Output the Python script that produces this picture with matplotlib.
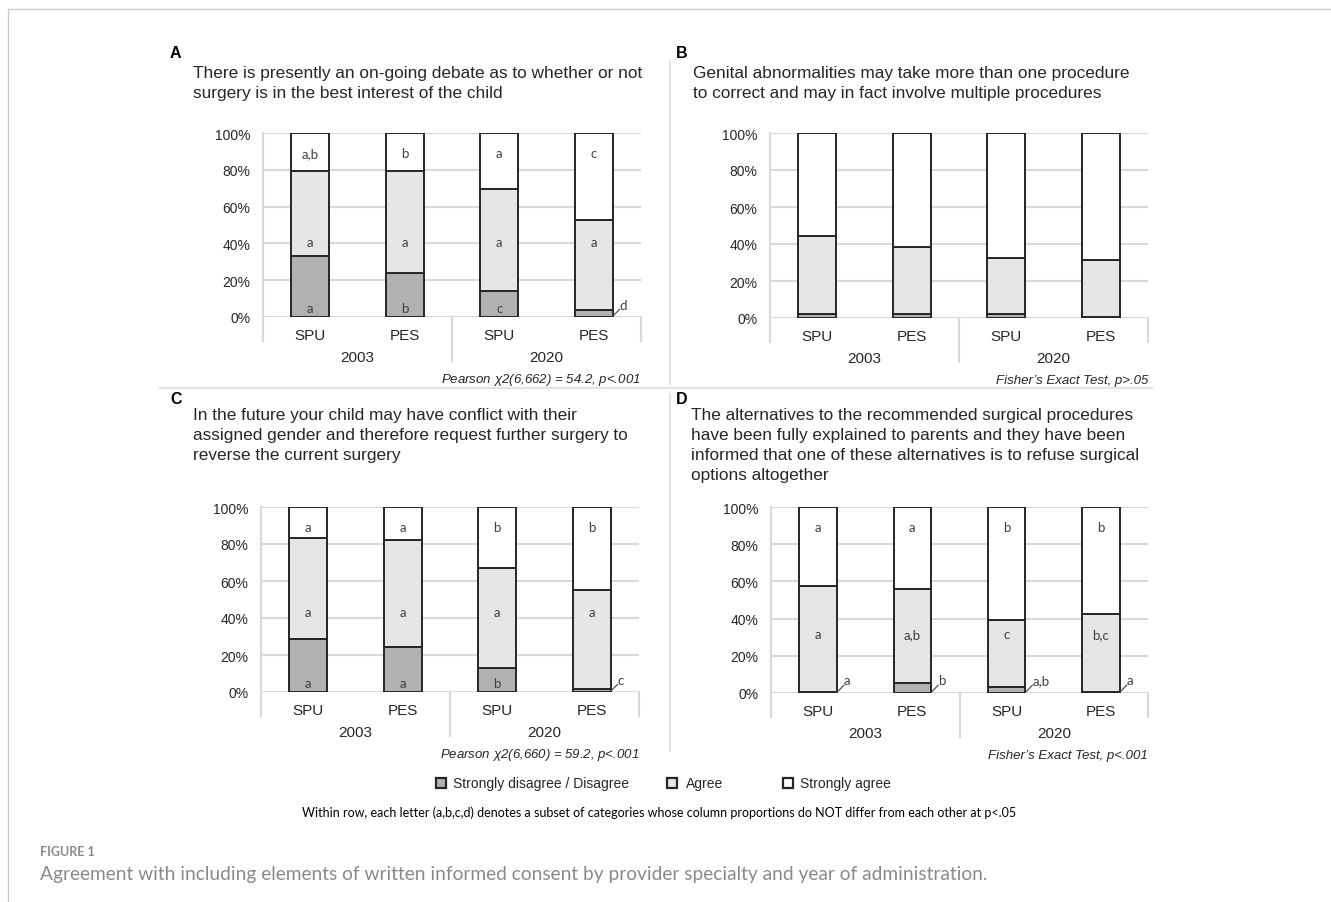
import matplotlib
matplotlib.use("Agg")
import matplotlib.pyplot as plt
from matplotlib.patches import Rectangle
from matplotlib.transforms import blended_transform_factory

W, H = 1331, 903

categories = ["SPU", "PES", "SPU", "PES"]
years = ["2003", "2020"]
series_names = ["Strongly disagree / Disagree", "Agree", "Strongly agree"]

# percentages per bar: SPU 2003, PES 2003, SPU 2020, PES 2020
disagree_a = [33.2, 23.8, 14.1, 3.6]
agree_a = [46.0, 55.8, 55.6, 49.1]
strong_a = [20.8, 20.4, 30.3, 47.3]

disagree_b = [2.0, 2.3, 2.3, 0.5]
agree_b = [42.3, 35.9, 30.2, 30.9]
strong_b = [55.7, 61.8, 67.5, 68.6]

disagree_c = [28.7, 24.1, 13.1, 1.6]
agree_c = [54.6, 57.9, 53.9, 53.7]
strong_c = [16.7, 18.0, 33.0, 44.7]

disagree_d = [0.3, 5.4, 3.0, 0.5]
agree_d = [57.0, 50.3, 36.1, 42.2]
strong_d = [42.7, 44.3, 60.9, 57.3]

# subset letters
letters_a = [["a", "b", "c", "d"], ["a", "a", "a", "a"], ["a,b", "b", "a", "c"]]
letters_b = None
letters_c = [["a", "a", "b", "c"], ["a", "a", "a", "a"], ["a", "a", "b", "b"]]
letters_d = [["a", "b", "a,b", "a"], ["a", "a,b", "c", "b,c"], ["a", "a", "b", "b"]]

questions = [
    "There is presently an on-going debate as to whether or not\nsurgery is in the best interest of the child",
    "Genital abnormalities may take more than one procedure\nto correct and may in fact involve multiple procedures",
    "In the future your child may have conflict with their\nassigned gender and therefore request further surgery to\nreverse the current surgery",
    "The alternatives to the recommended surgical procedures\nhave been fully explained to parents and they have been\ninformed that one of these alternatives is to refuse surgical\noptions altogether",
]
stats = [
    r"Pearson $\chi$2(6,662) = 54.2, p<.001",
    "Fisher\u2019s Exact Test, p>.05",
    r"Pearson $\chi$2(6,660) = 59.2, p<.001",
    "Fisher\u2019s Exact Test, p<.001",
]

colors = ["#b1b1b3", "#e7e6e6", "#ffffff"]
edge = "#262626"
grid = "#d9d9d9"
txt = "#262626"
lbl = "#404040"

plt.rcParams["font.family"] = ["Liberation Sans", "DejaVu Sans"]
plt.rcParams["mathtext.fontset"] = "custom"
plt.rcParams["mathtext.it"] = "Liberation Sans:italic"
plt.rcParams["mathtext.rm"] = "Liberation Sans:italic"

fig = plt.figure(figsize=(W / 100, H / 100), dpi=100)


def px(x, y):
    return x / W, 1 - y / H


def draw_panel(box, dis, agr, sa, letters, stat, mid_y):
    l, t, r, b = box
    ax = fig.add_axes([l / W, 1 - b / H, (r - l) / W, (b - t) / H])
    x = range(len(categories))
    ax.bar(x, dis, 0.4, color=colors[0], edgecolor=edge, linewidth=1.4, zorder=3)
    ax.bar(x, agr, 0.4, bottom=dis, color=colors[1], edgecolor=edge, linewidth=1.4, zorder=3)
    bott = [d + a for d, a in zip(dis, agr)]
    ax.bar(x, sa, 0.4, bottom=bott, color=colors[2], edgecolor=edge, linewidth=1.4, zorder=3)
    ax.set_xlim(-0.5, 3.5)
    ax.set_ylim(0, 100)
    ax.set_yticks(range(0, 101, 20))
    ax.set_yticklabels([f"{v}%" for v in range(0, 101, 20)], fontsize=10, color=txt)
    ax.tick_params(axis="y", length=0, pad=9)
    ax.set_xticks([])
    for s in ["top", "right", "bottom"]:
        ax.spines[s].set_visible(False)
    ax.spines["left"].set_color(grid)
    ax.spines["left"].set_linewidth(1.5)
    ax.yaxis.grid(True, color=grid, linewidth=1.5, zorder=0)
    ax.axhline(0, color=grid, linewidth=2, zorder=2)

    # multi-level category axis
    hpx = b - t
    tr = blended_transform_factory(ax.transData, ax.transAxes)
    for xs, depth in [(-0.5, 24), (1.5, 44), (3.5, 24)]:
        ax.plot([xs, xs], [0, -depth / hpx], transform=tr, color=grid, lw=1.5, clip_on=False)
    for i, c in enumerate(categories):
        ax.text(i, -18 / hpx, c, transform=tr, ha="center", va="center", fontsize=11, color=txt)
    for j, yv in enumerate(years):
        ax.text(2 * j + 0.5, -40 / hpx, yv, transform=tr, ha="center", va="center", fontsize=11, color=txt)
    ax.text(1, -62 / hpx, stat, transform=ax.transAxes, ha="right", va="center",
            fontsize=9.5, style="italic", color=txt)

    if letters is not None:
        unit = (r - l) / 4.0
        for i in x:
            if dis[i] < 6:
                x0 = i + 0.2
                ax.plot([x0, x0 + 7 / unit], [0.4, 4.2], color=lbl, lw=0.8, clip_on=False, zorder=4)
                ax.text(x0 + 7 / unit, 3.5, letters[0][i], ha="left", va="bottom",
                        fontsize=9.5, color=lbl, family="Lato", zorder=4)
            else:
                ax.text(i, 5, letters[0][i], ha="center", va="center", fontsize=9.5,
                        color=lbl, family="Lato", zorder=4)
            ax.text(i, mid_y, letters[1][i], ha="center", va="center", fontsize=9.5,
                    color=lbl, family="Lato", zorder=4)
            ax.text(i, 89, letters[2][i], ha="center", va="center", fontsize=9.5,
                    color=lbl, family="Lato", zorder=4)
    return ax


draw_panel((263, 134, 641, 318), disagree_a, agree_a, strong_a, letters_a, stats[0], 41)
draw_panel((770, 134, 1148, 319), disagree_b, agree_b, strong_b, letters_b, stats[1], 41)
draw_panel((261, 508, 639, 693), disagree_c, agree_c, strong_c, letters_c, stats[2], 43)
draw_panel((771, 508, 1148, 694), disagree_d, agree_d, strong_d, letters_d, stats[3], 31.5)

# panel letters and questions
for (lx, ly), (qx, qy), q, tag in [
    ((170, 53), (193, 66), questions[0], "A"),
    ((676, 53), (693, 66), questions[1], "B"),
    ((170, 400), (193, 408), questions[2], "C"),
    ((676, 400), (691, 408), questions[3], "D"),
]:
    fig.text(*px(lx, ly), tag, fontsize=11.5, fontweight="bold", ha="left", va="center", color="black")
    fig.text(*px(qx, qy), q, fontsize=12.4, ha="left", va="top", color=txt, linespacing=1.42)

# divider lines
fig.add_artist(plt.Line2D([160 / W, 1152 / W], [1 - 389 / H] * 2, color="#e3e3e3", lw=1.5))
fig.add_artist(plt.Line2D([670 / W] * 2, [1 - 63 / H, 1 - 385 / H], color="#e3e3e3", lw=1.5))
fig.add_artist(plt.Line2D([670 / W] * 2, [1 - 395 / H, 1 - 752 / H], color="#e3e3e3", lw=1.5))

# legend
for (mx, tx), name, col in zip([(441, 453), (672, 686), (788, 800)], series_names, colors):
    sq = Rectangle(px(mx - 5, 789), 10 / W, 10 / H, transform=fig.transFigure,
                   facecolor=col, edgecolor=edge, linewidth=1.6)
    fig.add_artist(sq)
    fig.text(*px(tx, 784), name, fontsize=10, ha="left", va="center", color=txt)

fig.text(*px(659, 813), "Within row, each letter (a,b,c,d) denotes a subset of categories whose column proportions do NOT differ from each other at p<.05",
         fontsize=9, ha="center", va="center", color="black", family="Lato")

fig.text(*px(40, 852), "FIGURE 1", fontsize=9, ha="left", va="center", color="#8a8a8a",
         family="Lato", fontweight="bold")
fig.text(*px(40, 875), "Agreement with including elements of written informed consent by provider specialty and year of administration.",
         fontsize=13.8, ha="left", va="center", color="#8a8a8a", family="Lato")

# outer frame
fig.add_artist(Rectangle(px(8, 920), 1330 / W, 910 / H, transform=fig.transFigure,
                         facecolor="none", edgecolor="#cccccc", linewidth=1))

fig.savefig("out.png", dpi=100)
